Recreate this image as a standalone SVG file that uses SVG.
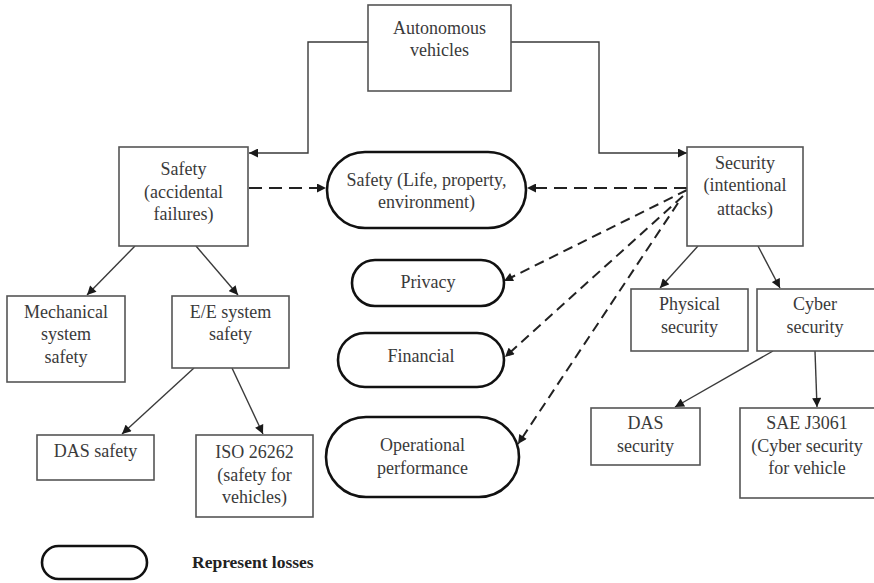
<svg xmlns="http://www.w3.org/2000/svg" width="874" height="583" viewBox="0 0 874 583">
  <style>
    .box { fill: #ffffff; stroke: #555555; stroke-width: 1.6; }
    .loss { fill: #ffffff; stroke: #111111; stroke-width: 2.6; }
    .lbl { font-family: "Liberation Serif", "Times New Roman", serif; font-size: 18px; fill: #3a3a3a; text-anchor: middle; }
    .legend { font-family: "Liberation Serif", "Times New Roman", serif; font-size: 17.5px; font-weight: bold; fill: #222222; }
    .link { fill: none; stroke: #3a3a3a; stroke-width: 1.4; }
    .dash { fill: none; stroke: #222222; stroke-width: 2; stroke-dasharray: 13 7; }
    .dash-d { fill: none; stroke: #222222; stroke-width: 2; stroke-dasharray: 10 6; }
  </style>
  <defs>
    <marker id="arrow" viewBox="0 0 10 10" refX="10" refY="5" markerWidth="10" markerHeight="9" markerUnits="userSpaceOnUse" orient="auto">
      <path d="M0,0 L10,5 L0,10 Z" fill="#1a1a1a"/>
    </marker>
  </defs>
  <rect width="874" height="583" fill="#ffffff"/>

  <!-- connectors -->
  <g id="connectors">
    <path class="link" d="M368,42 H308 V153 H249" marker-end="url(#arrow)"/>
    <path class="link" d="M511,42 H599 V153 H687" marker-end="url(#arrow)"/>
    <path class="link" d="M135,246 L87,295" marker-end="url(#arrow)"/>
    <path class="link" d="M196,246 L238,295" marker-end="url(#arrow)"/>
    <path class="link" d="M194,368 L122,434" marker-end="url(#arrow)"/>
    <path class="link" d="M232,368 L263,434" marker-end="url(#arrow)"/>
    <path class="link" d="M698,246 L660,288" marker-end="url(#arrow)"/>
    <path class="link" d="M758,246 L780,288" marker-end="url(#arrow)"/>
    <path class="link" d="M773,351 L675,407" marker-end="url(#arrow)"/>
    <path class="link" d="M815,351 L817,407" marker-end="url(#arrow)"/>
    <path class="dash" d="M249,188 H326" marker-end="url(#arrow)"/>
    <path class="dash" d="M687,188 H527" marker-end="url(#arrow)"/>
    <path class="dash-d" d="M687,190 L504,281" marker-end="url(#arrow)"/>
    <path class="dash-d" d="M683,196 L505,357" marker-end="url(#arrow)"/>
    <path class="dash-d" d="M678,203 L518,444" marker-end="url(#arrow)"/>
  </g>

  <g id="autonomous-vehicles">
    <rect class="box" x="368" y="5" width="143" height="86"/>
    <text class="lbl" x="439.5" y="34">Autonomous</text>
    <text class="lbl" x="439.5" y="56">vehicles</text>
  </g>

  <g id="safety">
    <rect class="box" x="119" y="147" width="129" height="99"/>
    <text class="lbl" x="183.5" y="175">Safety</text>
    <text class="lbl" x="183.5" y="198">(accidental</text>
    <text class="lbl" x="183.5" y="220">failures)</text>
  </g>

  <g id="security">
    <rect class="box" x="687" y="147" width="116" height="99"/>
    <text class="lbl" x="745" y="169">Security</text>
    <text class="lbl" x="745" y="191">(intentional</text>
    <text class="lbl" x="745" y="215">attacks)</text>
  </g>

  <g id="mechanical-safety">
    <rect class="box" x="7" y="296" width="118" height="86"/>
    <text class="lbl" x="66" y="318">Mechanical</text>
    <text class="lbl" x="66" y="340">system</text>
    <text class="lbl" x="66" y="363">safety</text>
  </g>

  <g id="ee-safety">
    <rect class="box" x="172" y="296" width="117" height="72"/>
    <text class="lbl" x="230.5" y="318">E/E system</text>
    <text class="lbl" x="230.5" y="340">safety</text>
  </g>

  <g id="das-safety">
    <rect class="box" x="37" y="435" width="117" height="45"/>
    <text class="lbl" x="95.5" y="457">DAS safety</text>
  </g>

  <g id="iso-26262">
    <rect class="box" x="196" y="435" width="117" height="82"/>
    <text class="lbl" x="254.5" y="458">ISO 26262</text>
    <text class="lbl" x="254.5" y="481">(safety for</text>
    <text class="lbl" x="254.5" y="503">vehicles)</text>
  </g>

  <g id="physical-security">
    <rect class="box" x="631" y="289" width="117" height="62"/>
    <text class="lbl" x="689.5" y="310">Physical</text>
    <text class="lbl" x="689.5" y="333">security</text>
  </g>

  <g id="cyber-security">
    <rect class="box" x="757" y="289" width="130" height="62"/>
    <text class="lbl" x="815" y="310">Cyber</text>
    <text class="lbl" x="815" y="333">security</text>
  </g>

  <g id="das-security">
    <rect class="box" x="591" y="408" width="109" height="57"/>
    <text class="lbl" x="645.5" y="429">DAS</text>
    <text class="lbl" x="645.5" y="452">security</text>
  </g>

  <g id="sae-j3061">
    <rect class="box" x="740" y="408" width="150" height="90"/>
    <text class="lbl" x="807" y="429">SAE J3061</text>
    <text class="lbl" x="807" y="452">(Cyber security</text>
    <text class="lbl" x="807" y="474">for vehicle</text>
  </g>

  <g id="loss-safety">
    <rect class="loss" x="327" y="152" width="199" height="76" rx="38" ry="38"/>
    <text class="lbl" x="426.5" y="186">Safety (Life, property,</text>
    <text class="lbl" x="426.5" y="208">environment)</text>
  </g>

  <g id="loss-privacy">
    <rect class="loss" x="352" y="260" width="152" height="46" rx="23" ry="23"/>
    <text class="lbl" x="428" y="288">Privacy</text>
  </g>

  <g id="loss-financial">
    <rect class="loss" x="338" y="333" width="166" height="54" rx="27" ry="27"/>
    <text class="lbl" x="421" y="362">Financial</text>
  </g>

  <g id="loss-operational">
    <rect class="loss" x="326" y="417" width="193" height="80" rx="40" ry="40"/>
    <text class="lbl" x="422.5" y="451">Operational</text>
    <text class="lbl" x="422.5" y="474">performance</text>
  </g>

  <g id="legend">
    <rect class="loss" x="42" y="546" width="105" height="33" rx="16.5" ry="16.5"/>
    <text class="legend" x="192" y="568">Represent losses</text>
  </g>
</svg>
